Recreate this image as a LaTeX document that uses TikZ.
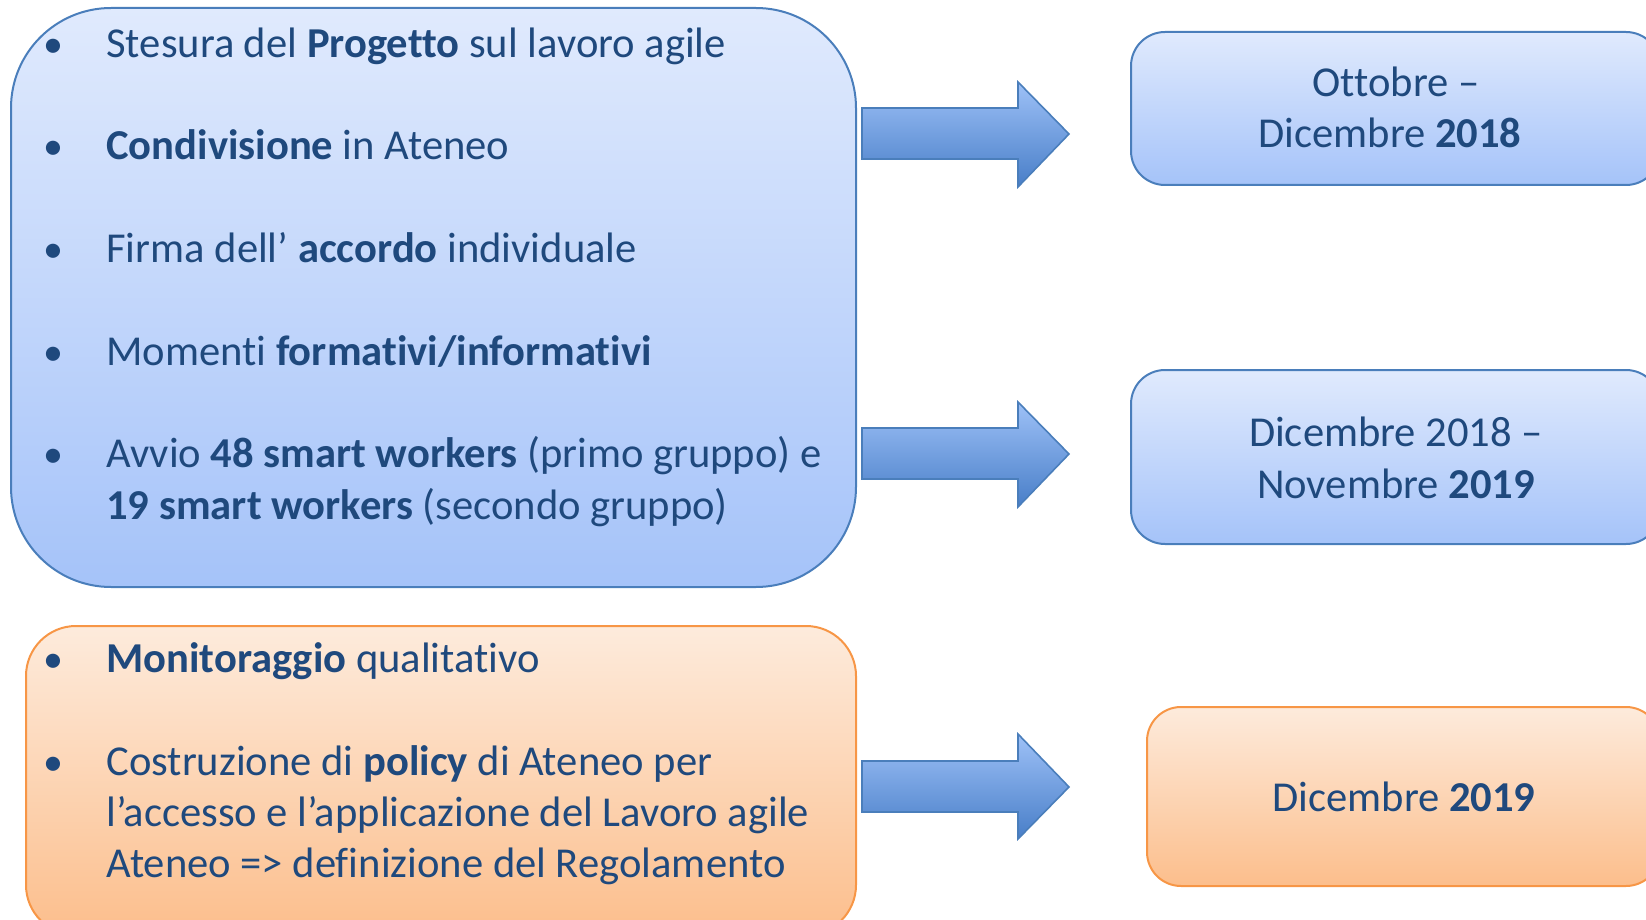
\documentclass[tikz,border=0pt]{standalone}
\usepackage{fontspec}
\setmainfont{Carlito}[Ligatures=NoCommon]
\definecolor{txt}{RGB}{31,73,125}
\definecolor{bluetop}{RGB}{224,234,253}
\definecolor{bluebot}{RGB}{165,195,249}
\definecolor{blueline}{RGB}{74,126,187}
\definecolor{arrtop}{RGB}{158,193,247}
\definecolor{arrbot}{RGB}{72,126,200}
\definecolor{orgtop}{RGB}{253,235,220}
\definecolor{orgbot}{RGB}{252,190,140}
\definecolor{orgline}{RGB}{247,150,70}
\tikzset{
  bluebox/.style={top color=bluetop, bottom color=bluebot, draw=blueline, line width=1pt},
  orangebox/.style={top color=orgtop, bottom color=orgbot, draw=orgline, line width=1pt},
  blockarrow/.style={top color=arrtop, bottom color=arrbot, draw=blueline, line width=0.8pt, line join=miter},
  line/.style={anchor=base west, inner sep=0pt, text=txt, font=\fontsize{21.3}{25.5}\selectfont},
  bul/.style={anchor=base, inner sep=0pt, text=txt, font=\fontsize{20}{25.5}\selectfont},
  ctr/.style={anchor=base, inner sep=0pt, text=txt, font=\fontsize{21.3}{25.5}\selectfont},
}
\begin{document}
\begin{tikzpicture}[x=0.5pt,y=-0.5pt]
\useasboundingbox (0,0) rectangle (1646,920);
\clip (0,0) rectangle (1646,920);
% left boxes
\draw[bluebox, rounded corners=50pt] (11,8) rectangle (856,587);
\draw[orangebox, rounded corners=25pt] (26,626) rectangle (856,935);
% right boxes
\draw[bluebox, rounded corners=17pt] (1131,32) rectangle (1660,185);
\draw[bluebox, rounded corners=17pt] (1131,370) rectangle (1660,544);
\draw[orangebox, rounded corners=17pt] (1147,707) rectangle (1660,886);
% arrows
\draw[blockarrow] (862,108) -- (1018,108) -- (1018,82) -- (1069,134) -- (1018,187) -- (1018,159) -- (862,159) -- cycle;
\draw[blockarrow] (862,428) -- (1018,428) -- (1018,402) -- (1069,454) -- (1018,507) -- (1018,479) -- (862,479) -- cycle;
\draw[blockarrow] (862,761) -- (1018,761) -- (1018,734) -- (1069,787) -- (1018,839) -- (1018,812) -- (862,812) -- cycle;
% bullets
\foreach \y/\n in {58/b1,160/b2,263/b3,365/b4,467/b5,672/b6,775/b7}
  \node[bul] (\n) at (53,\y) {•};
% left texts
\node[line] (t1) at (106,58) {Stesura del \textbf{Progetto} sul lavoro agile};
\node[line] (t2) at (106,160) {\textbf{Condivisione} in Ateneo};
\node[line] (t3) at (106,263) {Firma dell’ \textbf{accordo} individuale};
\node[line] (t4) at (106,365) {Momenti \textbf{formativi/informativi}};
\node[line] (t5) at (106,467) {Avvio \textbf{48 smart workers} (primo gruppo) e};
\node[line] (t6) at (106,519) {\textbf{19 smart workers} (secondo gruppo)};
\node[line] (t7) at (106,672) {\textbf{Monitoraggio} qualitativo};
\node[line] (t8) at (106,775) {Costruzione di \textbf{policy} di Ateneo per};
\node[line] (t9) at (106,826) {l’accesso e l’applicazione del Lavoro agile};
\node[line] (t10) at (106,877) {Ateneo => definizione del Regolamento};
% right texts
\node[ctr] (r1) at (1396,97) {Ottobre –};
\node[ctr] (r2) at (1390,148) {Dicembre \textbf{2018}};
\node[ctr] (r3) at (1396,446) {Dicembre 2018 –};
\node[ctr] (r4) at (1396,498) {Novembre \textbf{2019}};
\node[ctr] (r5) at (1404,811) {Dicembre \textbf{2019}};
\end{tikzpicture}
\end{document}
